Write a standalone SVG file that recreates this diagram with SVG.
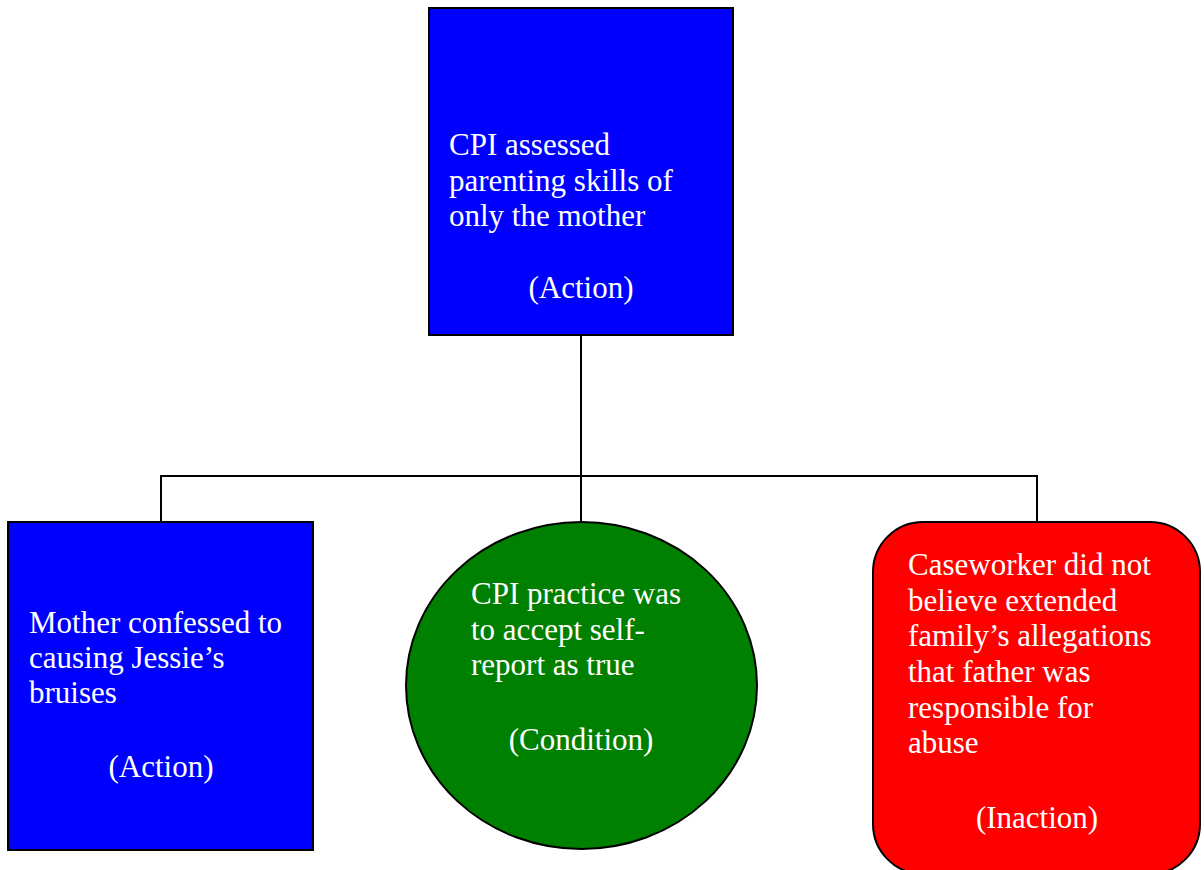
<svg xmlns="http://www.w3.org/2000/svg" width="1204" height="870" viewBox="0 0 1204 870">
<style>
.t{font-family:"Liberation Serif","Times New Roman",serif;font-size:31px;fill:#ffffff}
.c{text-anchor:middle}
.n{stroke:#000;stroke-width:2}
.ln{fill:none;stroke:#000;stroke-width:2}
</style>
<rect width="1204" height="870" fill="#ffffff"/>
<g id="connectors">
<path class="ln" d="M581,335 V476 M161,522 V476 H1037 V522 M581,476 V522"/>
</g>
<g id="node-top">
<rect class="n" x="429" y="8" width="304" height="327" fill="#0000ff"/>
<text class="t" x="449" y="155">CPI assessed</text>
<text class="t" x="449" y="191">parenting skills of</text>
<text class="t" x="449" y="226">only the mother</text>
<text class="t c" x="581" y="298">(Action)</text>
</g>
<g id="node-left">
<rect class="n" x="8" y="522" width="305" height="328" fill="#0000ff"/>
<text class="t" x="29" y="633">Mother confessed to</text>
<text class="t" x="29" y="668">causing Jessie’s</text>
<text class="t" x="29" y="703">bruises</text>
<text class="t c" x="161" y="777">(Action)</text>
</g>
<g id="node-middle">
<ellipse class="n" cx="581.5" cy="685.5" rx="175.5" ry="163.5" fill="#008000"/>
<text class="t" x="471" y="604">CPI practice was</text>
<text class="t" x="471" y="640">to accept self-</text>
<text class="t" x="471" y="675">report as true</text>
<text class="t c" x="581" y="750">(Condition)</text>
</g>
<g id="node-right">
<rect class="n" x="873" y="522" width="327" height="352" rx="50" ry="50" fill="#ff0000"/>
<text class="t" x="908" y="575">Caseworker did not</text>
<text class="t" x="908" y="611">believe extended</text>
<text class="t" x="908" y="646">family’s allegations</text>
<text class="t" x="908" y="682">that father was</text>
<text class="t" x="908" y="718">responsible for</text>
<text class="t" x="908" y="753">abuse</text>
<text class="t c" x="1037" y="828">(Inaction)</text>
</g>
</svg>
